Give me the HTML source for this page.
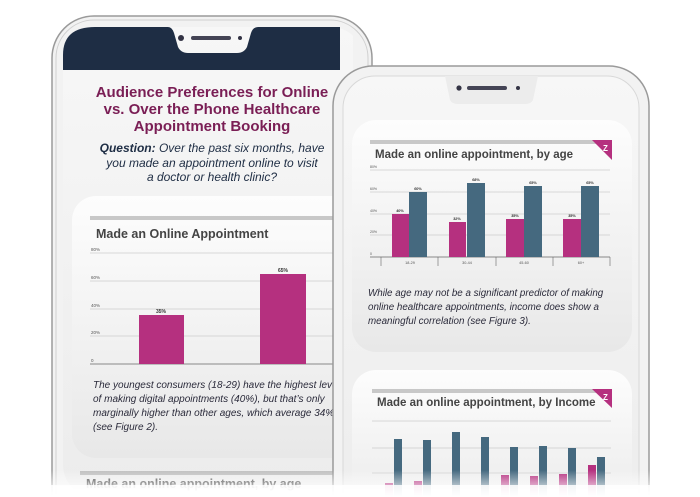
<!DOCTYPE html>
<html><head><meta charset="utf-8"><style>
html,body{margin:0;padding:0;background:#fff;width:700px;height:497px;overflow:hidden;}
svg{display:block;font-family:"Liberation Sans",sans-serif;}
</style></head><body>
<svg width="700" height="497" viewBox="0 0 700 497" xmlns="http://www.w3.org/2000/svg">
<defs>
<linearGradient id="fade" x1="0" y1="0" x2="0" y2="1"><stop offset="0" stop-color="#fff" stop-opacity="0"/><stop offset="1" stop-color="#fff" stop-opacity="1"/></linearGradient>
<linearGradient id="scr" x1="0" y1="0" x2="0" y2="1"><stop offset="0" stop-color="#f7f7f7"/><stop offset="1" stop-color="#ececec"/></linearGradient>
<linearGradient id="card" x1="0" y1="0" x2="0" y2="1"><stop offset="0" stop-color="#fdfdfd"/><stop offset="1" stop-color="#e8e8e8"/></linearGradient>
<clipPath id="c1"><rect x="63" y="27" width="290" height="470"/></clipPath>
</defs>
<rect x="52" y="16" width="320" height="520" rx="42" fill="#f2f2f2" stroke="#9a9a9a" stroke-width="1.5"/>
<rect x="56" y="20" width="312" height="512" rx="38" fill="none" stroke="#d0d0d0" stroke-width="1"/>
<g clip-path="url(#c1)">
<rect x="63" y="27" width="300" height="470" rx="32" fill="url(#scr)"/>
<path d="M63 70 V55 Q63 27 95 27 H168 Q172 27 174 33 L178 47 Q181 53 188 53 H237 Q244 53 247 47 L251 33 Q253 27 258 27 H340 V70 Z" fill="#1e2d44"/>
<circle cx="181" cy="38" r="3" fill="#334"/><rect x="191" y="36" width="40" height="4" rx="2" fill="#445"/><circle cx="240" cy="38" r="2" fill="#334"/>
<text fill="#7a1e55" font-size="15" font-weight="bold" text-anchor="middle"><tspan x="212" y="97">Audience Preferences for Online</tspan><tspan x="212" y="114">vs. Over the Phone Healthcare</tspan><tspan x="212" y="131">Appointment Booking</tspan></text>
<text fill="#1e2d44" font-size="12" font-style="italic" text-anchor="middle"><tspan x="212" y="152"><tspan font-weight="bold">Question:</tspan> Over the past six months, have</tspan><tspan x="212" y="167">you made an appointment online to visit</tspan><tspan x="212" y="181">a doctor or health clinic?</tspan></text>
<rect x="72" y="196" width="300" height="262" rx="24" fill="url(#card)"/>
<rect x="90" y="216" width="260" height="4" fill="#c8c8c8"/>
<text x="96" y="238" font-size="12.5" font-weight="bold" fill="#444">Made an Online Appointment</text>
<g stroke="#ccc" stroke-width="0.7"><line x1="90" y1="253" x2="340" y2="253"/><line x1="90" y1="281" x2="340" y2="281"/><line x1="90" y1="309" x2="340" y2="309"/><line x1="90" y1="336" x2="340" y2="336"/></g>
<line x1="90" y1="364" x2="340" y2="364" stroke="#666" stroke-width="0.8"/>
<g font-size="4.5" fill="#555"><text x="91" y="251">80%</text><text x="91" y="279">60%</text><text x="91" y="307">40%</text><text x="91" y="334">20%</text><text x="91" y="362">0</text></g>
<rect x="139" y="315" width="45" height="49" fill="#b5307f"/><rect x="260" y="274" width="46" height="90" fill="#b5307f"/>
<g font-size="5" fill="#333" text-anchor="middle" font-weight="bold"><text x="161" y="313">35%</text><text x="283" y="272">65%</text></g>
<text fill="#2a2a3a" font-size="10" font-style="italic"><tspan x="93" y="388">The youngest consumers (18-29) have the highest level</tspan><tspan x="93" y="402">of making digital appointments (40%), but that’s only</tspan><tspan x="93" y="416">marginally higher than other ages, which average 34%</tspan><tspan x="93" y="430">(see Figure 2).</tspan></text>
<rect x="80" y="471" width="270" height="4" fill="#c0c0c0"/>
<text x="86" y="488" font-size="12.5" font-weight="bold" fill="#444">Made an online appointment, by age</text>
</g>
<rect x="333" y="66" width="316" height="480" rx="40" fill="#f2f2f2" stroke="#9a9a9a" stroke-width="1.5"/>
<rect x="343" y="76" width="296" height="470" rx="32" fill="url(#scr)" stroke="#d8d8d8"/>
<path d="M445 76 L450 100 Q452 104 458 104 H525 Q531 104 533 100 L538 76 Z" fill="#ececec"/>
<circle cx="459" cy="88" r="2.6" fill="#334"/><rect x="467" y="86" width="40" height="4" rx="2" fill="#445"/><circle cx="518" cy="88" r="2" fill="#334"/>
<rect x="352" y="120" width="280" height="232" rx="24" fill="url(#card)"/>
<rect x="370" y="140" width="242" height="4" fill="#c8c8c8"/>
<path d="M592 140 H612 V160 Z" fill="#b5307f"/><text x="603" y="151" font-size="8" fill="#fff" font-weight="bold">Z</text>
<text x="375" y="158" font-size="11.5" font-weight="bold" fill="#444">Made an online appointment, by age</text>
<g stroke="#ccc" stroke-width="0.7"><line x1="370" y1="170" x2="610" y2="170"/><line x1="370" y1="192" x2="610" y2="192"/><line x1="370" y1="214" x2="610" y2="214"/><line x1="370" y1="235" x2="610" y2="235"/></g>
<line x1="370" y1="257" x2="610" y2="257" stroke="#666" stroke-width="0.8"/>
<g stroke="#666" stroke-width="0.6"><line x1="381" y1="257" x2="381" y2="266"/><line x1="438" y1="257" x2="438" y2="266"/><line x1="496" y1="257" x2="496" y2="266"/><line x1="553" y1="257" x2="553" y2="266"/><line x1="610" y1="257" x2="610" y2="266"/></g>
<g font-size="3.5" fill="#555"><text x="370" y="168">80%</text><text x="370" y="190">60%</text><text x="370" y="212">40%</text><text x="370" y="233">20%</text><text x="370" y="255">0</text></g>
<g fill="#b5307f"><rect x="392" y="214" width="17" height="43"/><rect x="449" y="222" width="17" height="35"/><rect x="506" y="219" width="18" height="38"/><rect x="563" y="219" width="18" height="38"/></g>
<g fill="#45697f"><rect x="409" y="192" width="18" height="65"/><rect x="467" y="183" width="18" height="74"/><rect x="524" y="186" width="18" height="71"/><rect x="581" y="186" width="18" height="71"/></g>
<g font-size="3.8" fill="#333" text-anchor="middle" font-weight="bold"><text x="400" y="212">40%</text><text x="418" y="190">60%</text><text x="457" y="220">32%</text><text x="476" y="181">68%</text><text x="515" y="217">35%</text><text x="533" y="184">65%</text><text x="572" y="217">35%</text><text x="590" y="184">65%</text></g>
<g font-size="3.8" fill="#555" text-anchor="middle"><text x="410" y="264">18-29</text><text x="467" y="264">30-44</text><text x="524" y="264">45-60</text><text x="581" y="264">60+</text></g>
<text fill="#2a2a3a" font-size="9.8" font-style="italic"><tspan x="368" y="296">While age may not be a significant predictor of making</tspan><tspan x="368" y="310">online healthcare appointments, income does show a</tspan><tspan x="368" y="324">meaningful correlation (see Figure 3).</tspan></text>
<rect x="352" y="370" width="280" height="160" rx="24" fill="url(#card)"/>
<rect x="372" y="389" width="240" height="4" fill="#c8c8c8"/>
<path d="M592 389 H612 V408 Z" fill="#b5307f"/><text x="603" y="400" font-size="8" fill="#fff" font-weight="bold">Z</text>
<text x="377" y="406" font-size="11.5" font-weight="bold" fill="#444">Made an online appointment, by Income</text>
<g stroke="#ccc" stroke-width="0.7"><line x1="372" y1="421" x2="611" y2="421"/><line x1="372" y1="448" x2="611" y2="448"/><line x1="372" y1="473" x2="611" y2="473"/></g>
<g fill="#45697f"><rect x="394" y="439" width="8" height="60"/><rect x="423" y="440" width="8" height="60"/><rect x="452" y="432" width="8" height="70"/><rect x="481" y="437" width="8" height="60"/><rect x="510" y="447" width="8" height="50"/><rect x="539" y="446" width="8" height="50"/><rect x="568" y="448" width="8" height="50"/><rect x="597" y="457" width="8" height="40"/></g>
<g fill="#b5307f"><rect x="385" y="483" width="8" height="20"/><rect x="414" y="481" width="8" height="20"/><rect x="501" y="475" width="8" height="25"/><rect x="530" y="476" width="8" height="25"/><rect x="559" y="474" width="8" height="25"/><rect x="588" y="465" width="8" height="35"/></g>
<rect x="0" y="470" width="700" height="27" fill="url(#fade)"/>
<rect x="0" y="485" width="700" height="12" fill="#fff" opacity="0.85"/>
</svg>
</body></html>
